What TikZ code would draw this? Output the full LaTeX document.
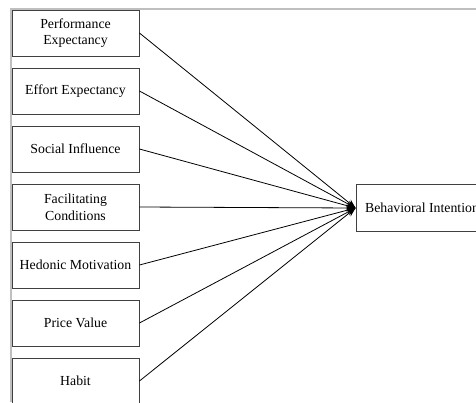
\documentclass[tikz,border=0pt]{standalone}
\usepackage{fontspec}
\setmainfont{Liberation Serif}
\usetikzlibrary{arrows.meta}

\begin{document}
\begin{tikzpicture}[
  x=1pt, y=-1pt,
  >={Stealth[length=9pt,width=7pt]},
  every node/.style={font=\fontsize{13.8}{16.6}\selectfont},
  factor/.style={draw=black!75, line width=0.9pt, align=center, minimum width=127pt, minimum height=46pt, inner sep=0pt},
  outcome/.style={draw=black!75, line width=0.9pt, minimum width=132pt, minimum height=47pt, inner sep=0pt},
  path/.style={->, line width=0.8pt}
]
  \useasboundingbox (0,0) rectangle (476,402);
  % page frame
  \draw[black!25, line width=1.6pt] (11,402) -- (11,9) -- (476,9);

  \node[factor] (pe) at (75.5,33) {Performance\\Expectancy};
  \node[factor] (ee) at (75.5,91) {Effort Expectancy};
  \node[factor] (si) at (75.5,149) {Social Influence};
  \node[factor] (fc) at (75.5,207) {Facilitating\\Conditions};
  \node[factor] (hm) at (75.5,265) {Hedonic Motivation};
  \node[factor] (pv) at (75.5,323) {Price Value};
  \node[factor] (hb) at (75.5,381) {Habit};

  \node[outcome] (bi) at (422,208) {Behavioral Intention};

  \draw[path] (pe.east) -- (bi.west);
  \draw[path] (ee.east) -- (bi.west);
  \draw[path] (si.east) -- (bi.west);
  \draw[path] (fc.east) -- (bi.west);
  \draw[path] (hm.east) -- (bi.west);
  \draw[path] (pv.east) -- (bi.west);
  \draw[path] (hb.east) -- (bi.west);
\end{tikzpicture}
\end{document}
